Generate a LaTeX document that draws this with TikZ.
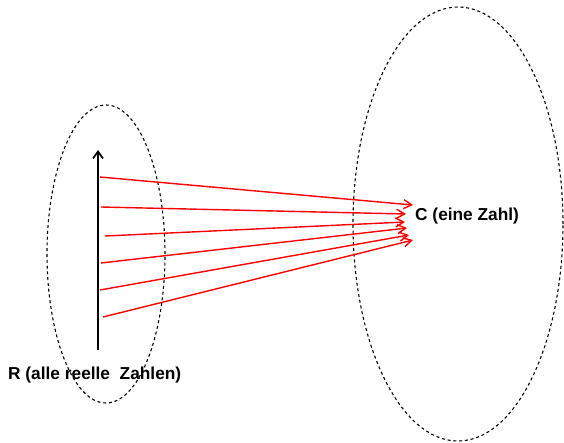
\documentclass[tikz,border=0pt]{standalone}
\usepackage{fontspec}
\setmainfont{Liberation Sans}
\usetikzlibrary{shapes.geometric,arrows.meta}
\begin{document}
\begin{tikzpicture}[x=1pt,y=-1pt,
  setline/.style={draw,ellipse,line width=1.1pt,dash pattern=on 3pt off 2.8pt,inner sep=0pt},
  maparrow/.style={red,line width=1.4pt,-{Straight Barb[length=8pt,width=9pt,line width=1.4pt]}},
  axis/.style={line width=1.7pt,-{Straight Barb[length=7pt,width=10pt,line width=1.7pt]}},
  lbl/.style={font=\bfseries\fontsize{17.3}{19}\selectfont,inner sep=0pt}]
\useasboundingbox (0,0) rectangle (564,442);
% the two sets
\node[setline,minimum width=118pt,minimum height=298pt] (R) at (106,254) {};
\node[setline,minimum width=210pt,minimum height=434pt] (Cset) at (458,224) {};
% real axis
\coordinate (a0) at (98,350);
\coordinate (a1) at (98,150);
\draw[axis] (a0) -- (a1);
% labels
\node[lbl,anchor=west] (Clbl) at (415,216) {C (eine Zahl)};
\node[lbl,anchor=west] (Rlbl) at (8,375) {R (alle reelle \ Zahlen)};
% mapping arrows
\coordinate (s1) at (100,177); \coordinate (t1) at (413,205);
\coordinate (s2) at (101,207); \coordinate (t2) at (406,214);
\coordinate (s3) at (105,236); \coordinate (t3) at (405,222);
\coordinate (s4) at (101,263); \coordinate (t4) at (407,228);
\coordinate (s5) at (100,290); \coordinate (t5) at (409,235);
\coordinate (s6) at (103,317); \coordinate (t6) at (413,240);
\foreach \i in {1,...,6} \draw[maparrow] (s\i) -- (t\i);
\end{tikzpicture}
\end{document}
